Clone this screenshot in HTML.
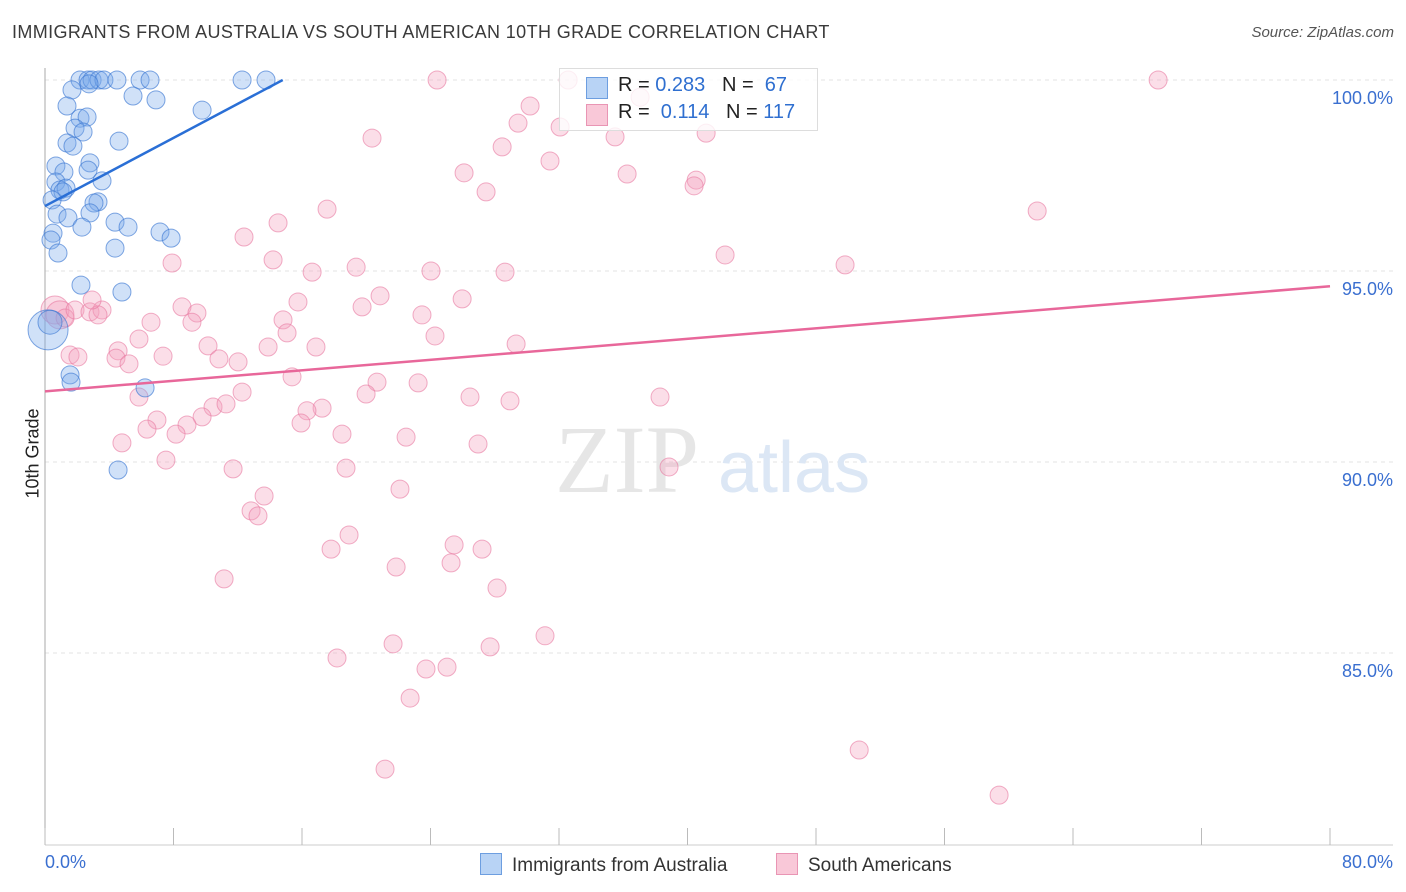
<!DOCTYPE html>
<html><head><meta charset="utf-8">
<style>
body{margin:0;background:#fff;font-family:"Liberation Sans",sans-serif;}
#wrap{position:relative;width:1406px;height:892px;overflow:hidden;}
.t{position:absolute;white-space:nowrap;}
</style></head>
<body>
<div id="wrap">
<div class="t" style="left:12px;top:22px;font-size:18px;letter-spacing:0.38px;color:#3a3a3a;">IMMIGRANTS FROM AUSTRALIA VS SOUTH AMERICAN 10TH GRADE CORRELATION CHART</div>
<div class="t" style="right:12px;top:24px;font-size:15px;color:#555;font-style:italic;">Source: ZipAtlas.com</div>
<svg id="svg" width="1406" height="892" style="position:absolute;left:0;top:0"></svg>
</div>
<script>
const blueX=[2.18,2.68,2.93,3.36,3.67,4.48,5.92,6.54,12.27,13.76,2.74,1.68,5.48,6.91,1.37,9.78,2.18,2.62,1.87,2.37,4.61,1.37,1.74,2.80,0.68,1.18,2.68,3.55,0.68,0.93,1.31,1.12,0.44,3.30,3.05,2.80,0.75,1.43,4.36,2.30,5.17,0.50,7.16,7.85,0.37,4.36,0.81,2.24,4.79,1.56,1.62,6.23,4.55,0.19,0.31];
const blueY=[100,100,100,100,100,100,100,100,100,100,99.9,99.74,99.58,99.48,99.32,99.21,99.0,99.03,98.74,98.64,98.4,98.35,98.27,97.83,97.75,97.59,97.64,97.36,97.33,97.12,97.17,97.07,96.86,96.81,96.78,96.52,96.49,96.39,96.28,96.15,96.15,95.99,96.02,95.86,95.81,95.60,95.47,94.63,94.45,92.28,92.09,91.94,89.79,93.46,93.66];
const blueR=[9,9,9,9,9,9,9,9,9,9,9,9,9,9,9,9,9,9,9,9,9,9,9,9,9,9,9,9,9,9,9,9,9,9,9,9,9,9,9,9,9,9,9,9,9,9,9,9,9,9,9,9,9,20,12];
const pinkX=[24.41,32.57,69.3,37.05,30.2,29.45,32.07,20.36,28.46,35.49,41.16,31.44,26.09,36.24,40.54,40.41,27.46,61.77,17.56,14.51,12.39,42.34,7.91,14.2,19.37,24.03,28.64,16.63,49.81,15.75,20.86,25.97,19.74,8.53,9.46,23.47,14.82,6.6,9.15,15.07,24.28,5.85,10.15,13.89,16.87,29.33,7.35,4.55,4.42,10.83,12.02,5.23,15.38,20.67,23.23,5.85,12.27,19.99,26.46,28.95,38.29,10.46,17.25,16.31,11.27,6.97,9.78,15.94,8.84,6.35,18.49,22.48,8.16,4.79,26.96,7.53,11.71,18.74,38.85,13.64,22.1,12.83,13.26,18.93,17.81,25.47,27.21,25.28,21.86,11.15,28.14,31.13,21.67,27.71,18.18,23.72,25.03,22.73,50.69,21.17,59.4,0.62,0.93,1.25,1.87,2.8,3.55,3.3,2.93,1.56,2.05];
const pinkY=[100,100,100,99.55,99.32,98.87,98.77,98.48,98.25,98.51,98.61,97.88,97.57,97.54,97.38,97.23,97.07,96.57,96.62,96.26,95.89,95.42,95.21,95.29,95.10,95.0,94.97,94.97,95.16,94.19,94.35,94.27,94.06,94.06,93.9,93.85,93.72,93.66,93.66,93.38,93.3,93.22,93.04,93.01,93.01,93.09,92.77,92.91,92.72,92.7,92.62,92.57,92.23,92.09,92.07,91.7,91.83,91.78,91.7,91.6,91.7,91.44,91.41,91.34,91.52,91.1,91.18,91.02,90.97,90.86,90.73,90.65,90.73,90.5,90.47,90.05,89.82,89.84,89.87,89.11,89.29,88.72,88.59,88.09,87.72,87.83,87.72,87.36,87.25,86.94,86.7,85.45,85.24,85.16,84.87,84.58,84.63,83.82,82.46,81.96,81.28,93.98,93.85,93.77,93.98,93.93,93.98,93.85,94.24,92.8,92.75];
const yTicks=[100,95,90,85];
const yTickLabels=["100.0%","95.0%","90.0%","85.0%"];
const xTicks=[0,8,16,24,32,40,48,56,64,72,80];
const blueTrend=[[0,96.7],[14.8,100]];
const pinkTrend=[[0,91.85],[80,94.6]];

const NS="http://www.w3.org/2000/svg";
const svg=document.getElementById('svg');
const X=v=>45+v*(1285/80);
const Y=v=>80+(100-v)*38.2;
function mk(tag,attrs,parent){const e=document.createElementNS(NS,tag);for(const k in attrs)e.setAttribute(k,attrs[k]);(parent||svg).appendChild(e);return e;}

yTicks.forEach((t,i)=>{
  const g=mk('line',{x1:45,x2:1393,y1:Y(t),y2:Y(t),stroke:'#e3e3e3','stroke-dasharray':'4,4'});
  
  
  const tx=mk('text',{x:1393,y:Y(t)+24,'text-anchor':'end','font-size':18,fill:'#3a6fd0','font-family':'Liberation Sans, sans-serif'});
  tx.textContent=yTickLabels[i];
  
  
});
const ax=mk('line',{x1:45,x2:45,y1:68,y2:845,stroke:'#aaa'});


const bx=mk('line',{x1:45,x2:1393,y1:845,y2:845,stroke:'#ccc'});


xTicks.forEach(t=>{
  const l=mk('line',{x1:X(t),x2:X(t),y1:828,y2:845,stroke:'#bbb'});
  
  
});
const wm=mk('text',{x:555,y:492,'font-size':96,fill:'#e6e6e6','font-family':'Liberation Serif, serif'});
wm.textContent='ZIP';


const wm2=mk('text',{x:718,y:492,'font-size':72,fill:'#dce7f5','font-family':'Liberation Sans, sans-serif'});
wm2.textContent='atlas';



pinkX.forEach((v,i)=>{
  const r=i>=101&&i<=102?14:9;
  const c=mk('circle',{cx:X(v),cy:Y(pinkY[i]),r:r,fill:'rgba(244,160,190,0.35)',stroke:'rgba(232,120,160,0.6)','stroke-width':1});
  
  
});
blueX.forEach((v,i)=>{
  const c=mk('circle',{cx:X(v),cy:Y(blueY[i]),r:blueR[i],fill:'rgba(120,170,235,0.35)',stroke:'rgba(60,120,210,0.65)','stroke-width':1});
  
  
});
const bl=mk('line',{x1:X(blueTrend[0][0]),y1:Y(blueTrend[0][1]),x2:X(blueTrend[1][0]),y2:Y(blueTrend[1][1]),stroke:'#2a6fd6','stroke-width':2.5});


const pl=mk('line',{x1:X(pinkTrend[0][0]),y1:Y(pinkTrend[0][1]),x2:X(pinkTrend[1][0]),y2:Y(pinkTrend[1][1]),stroke:'#e8679a','stroke-width':2.5});


</script>
<div class="t" style="left:-12px;top:443px;font-size:18px;color:#222;transform:rotate(-90deg);">10th Grade</div>
<div class="t" style="left:45px;top:852px;font-size:18px;color:#3a6fd0;">0.0%</div>
<div class="t" style="right:13px;top:852px;font-size:18px;color:#3a6fd0;">80.0%</div>
<div style="position:absolute;left:559px;top:68px;width:257px;height:61px;border:1px solid #ddd;background:rgba(255,255,255,0.8);font-size:20px;">
  <div style="position:absolute;left:26px;top:8px;width:20px;height:20px;background:#b8d3f5;border:1px solid #6d9ee0;"></div>
  <div class="t" style="left:58px;top:5px;color:#222;">R = <span style="color:#2f6fd0">0.283</span>&nbsp;&nbsp;&nbsp;N = &nbsp;<span style="color:#2f6fd0">67</span></div>
  <div style="position:absolute;left:26px;top:35px;width:20px;height:20px;background:#f9c8d8;border:1px solid #e995b4;"></div>
  <div class="t" style="left:58px;top:32px;color:#222;">R = &nbsp;<span style="color:#2f6fd0">0.114</span>&nbsp;&nbsp;&nbsp;N = <span style="color:#2f6fd0">117</span></div>
</div>
<div style="position:absolute;left:480px;top:853px;font-size:19px;color:#333;">
  <span style="display:inline-block;width:20px;height:20px;background:#b8d3f5;border:1px solid #6d9ee0;vertical-align:-4px;margin-right:10px;"></span>Immigrants from Australia</div>
<div style="position:absolute;left:776px;top:853px;font-size:19px;color:#333;">
  <span style="display:inline-block;width:20px;height:20px;background:#f9c8d8;border:1px solid #e995b4;vertical-align:-4px;margin-right:10px;"></span>South Americans</div>
</body></html>
